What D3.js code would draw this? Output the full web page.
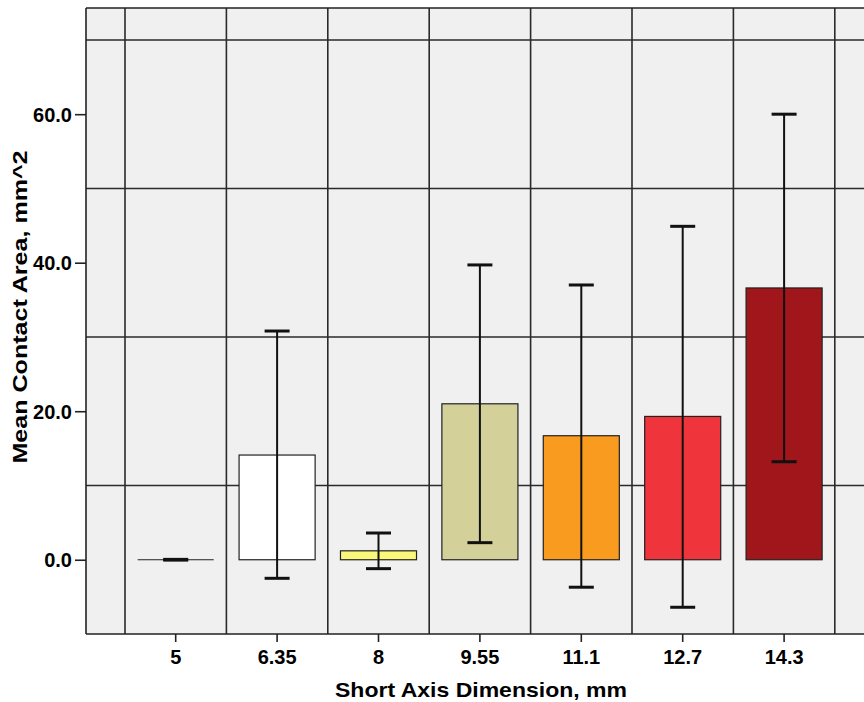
<!DOCTYPE html>
<html>
<head>
<meta charset="utf-8">
<script src="https://cdn.jsdelivr.net/npm/d3@7"></script>
<style>
  body { margin: 0; background: #fff; }
  svg { display: block; }
  .tick-label { font-family: "Liberation Sans Narrow", "Liberation Sans", Arial, sans-serif; font-weight: bold; font-size: 20px; fill: #000; }
  .axis-title { font-family: "Liberation Sans", Arial, sans-serif; font-weight: bold; font-size: 21px; fill: #000; }
</style>
</head>
<body>
<div id="chart"></div>
<script>
// data
const categories = ['5', '6.35', '8', '9.55', '11.1', '12.7', '14.3'];
const means      = [0, 14.1, 1.2, 21.0, 16.7, 19.3, 36.6];
const errHigh    = [0.05, 30.8, 3.6, 39.7, 37.0, 44.9, 60.0];
const errLow     = [-0.05, -2.5, -1.2, 2.3, -3.7, -6.4, 13.2];
const barColors  = ['#ffffff', '#fbf77a', '#d4d09a', '#f89b1f', '#ef343b', '#a1161b'];
const yTicks     = [0, 20, 40, 60];
const yGrid      = [10, 30, 50, 70];

const width = 864, height = 702;
const margin = { left: 86, top: 8, right: 0, bottom: 68 };

const svg = d3.select('#chart').append('svg')
  .attr('width', width)
  .attr('height', height);

// plot area runs a bit past the right edge (cropped like the original)
const plotRight = 900;
const x = d3.scaleBand()
  .domain(categories)
  .range([125, 125 + 101.4 * categories.length])
  .paddingInner(0)
  .paddingOuter(0);

const y = d3.scaleLinear()
  .domain([-10, 74.3])
  .range([height - margin.bottom, margin.top]);

// background
svg.append('rect')
  .attr('x', margin.left)
  .attr('y', margin.top)
  .attr('width', plotRight - margin.left)
  .attr('height', y(-10) - margin.top)
  .attr('fill', '#f0f0f0');

// grid lines
const grid = svg.append('g').attr('stroke', '#2a2a2a').attr('stroke-width', 1.6);
grid.selectAll('.hgrid')
  .data(yGrid)
  .enter()
  .append('line')
  .attr('class', 'hgrid')
  .attr('x1', margin.left).attr('x2', plotRight)
  .attr('y1', d => y(d)).attr('y2', d => y(d));

const vgrid = categories.map(c => x(c)).concat([x.range()[1]]);
grid.selectAll('.vgrid')
  .data(vgrid)
  .enter()
  .append('line')
  .attr('class', 'vgrid')
  .attr('x1', d => d).attr('x2', d => d)
  .attr('y1', margin.top).attr('y2', y(-10));

// bars
const barW = x.bandwidth() * 0.75;
const data = categories.map((c, i) => ({ c, m: means[i], hi: errHigh[i], lo: errLow[i], i }));

svg.append('g').selectAll('.bar')
  .data(data.slice(1))
  .enter()
  .append('rect')
  .attr('class', 'bar')
  .attr('x', d => x(d.c) + (x.bandwidth() - barW) / 2)
  .attr('y', d => y(d.m))
  .attr('width', barW)
  .attr('height', d => y(0) - y(d.m))
  .attr('fill', (d, i) => barColors[i])
  .attr('stroke', '#222')
  .attr('stroke-width', 1.2);

// zero-height bar for category 5
svg.append('line')
  .attr('x1', x('5') + (x.bandwidth() - barW) / 2)
  .attr('x2', x('5') + (x.bandwidth() + barW) / 2)
  .attr('y1', y(0)).attr('y2', y(0))
  .attr('stroke', '#222')
  .attr('stroke-width', 1.2);

// error bars
const capW = 25;
const err = svg.append('g').attr('stroke', '#111').attr('stroke-width', 2);
data.forEach(d => {
  const cx = x(d.c) + x.bandwidth() / 2;
  err.append('line')
    .attr('x1', cx).attr('x2', cx)
    .attr('y1', y(d.hi)).attr('y2', y(d.lo));
  err.append('line')
    .attr('x1', cx - capW / 2).attr('x2', cx + capW / 2)
    .attr('y1', y(d.hi)).attr('y2', y(d.hi))
    .attr('stroke-width', 3);
  err.append('line')
    .attr('x1', cx - capW / 2).attr('x2', cx + capW / 2)
    .attr('y1', y(d.lo)).attr('y2', y(d.lo))
    .attr('stroke-width', 3);
});

// frame: left and bottom and top
const frame = svg.append('g').attr('stroke', '#222').attr('stroke-width', 1.6);
frame.append('line').attr('x1', margin.left).attr('x2', margin.left).attr('y1', margin.top).attr('y2', y(-10));
frame.append('line').attr('x1', margin.left).attr('x2', plotRight).attr('y1', y(-10)).attr('y2', y(-10));
frame.append('line').attr('x1', margin.left).attr('x2', plotRight).attr('y1', margin.top).attr('y2', margin.top);

// y axis
const yAxis = d3.axisLeft(y)
  .tickValues(yTicks)
  .tickSize(11)
  .tickPadding(3)
  .tickFormat(d3.format('.1f'));
const gy = svg.append('g')
  .attr('transform', `translate(${margin.left},0)`)
  .call(yAxis);
gy.select('.domain').remove();
gy.selectAll('.tick line').attr('stroke', '#222').attr('stroke-width', 1.6);
gy.selectAll('.tick text').attr('class', 'tick-label').attr('dy', '0.36em');

// x axis
const xAxis = d3.axisBottom(x)
  .tickSize(8)
  .tickPadding(8);
const gx = svg.append('g')
  .attr('transform', `translate(0,${y(-10)})`)
  .call(xAxis);
gx.select('.domain').remove();
gx.selectAll('.tick line').attr('stroke', '#222').attr('stroke-width', 1.6);
gx.selectAll('.tick text').attr('class', 'tick-label');
gx.attr('font-size', null).attr('font-family', null);
gy.attr('font-size', null).attr('font-family', null);

// axis titles
svg.append('text')
  .attr('class', 'axis-title')
  .attr('x', 481)
  .attr('y', 697)
  .attr('text-anchor', 'middle')
  .attr('textLength', 292)
  .attr('lengthAdjust', 'spacingAndGlyphs')
  .text('Short Axis Dimension, mm');

svg.append('text')
  .attr('class', 'axis-title')
  .attr('transform', 'translate(27,307) rotate(-90)')
  .attr('text-anchor', 'middle')
  .attr('textLength', 313)
  .attr('lengthAdjust', 'spacingAndGlyphs')
  .text('Mean Contact Area, mm^2');
</script>
</body>
</html>
